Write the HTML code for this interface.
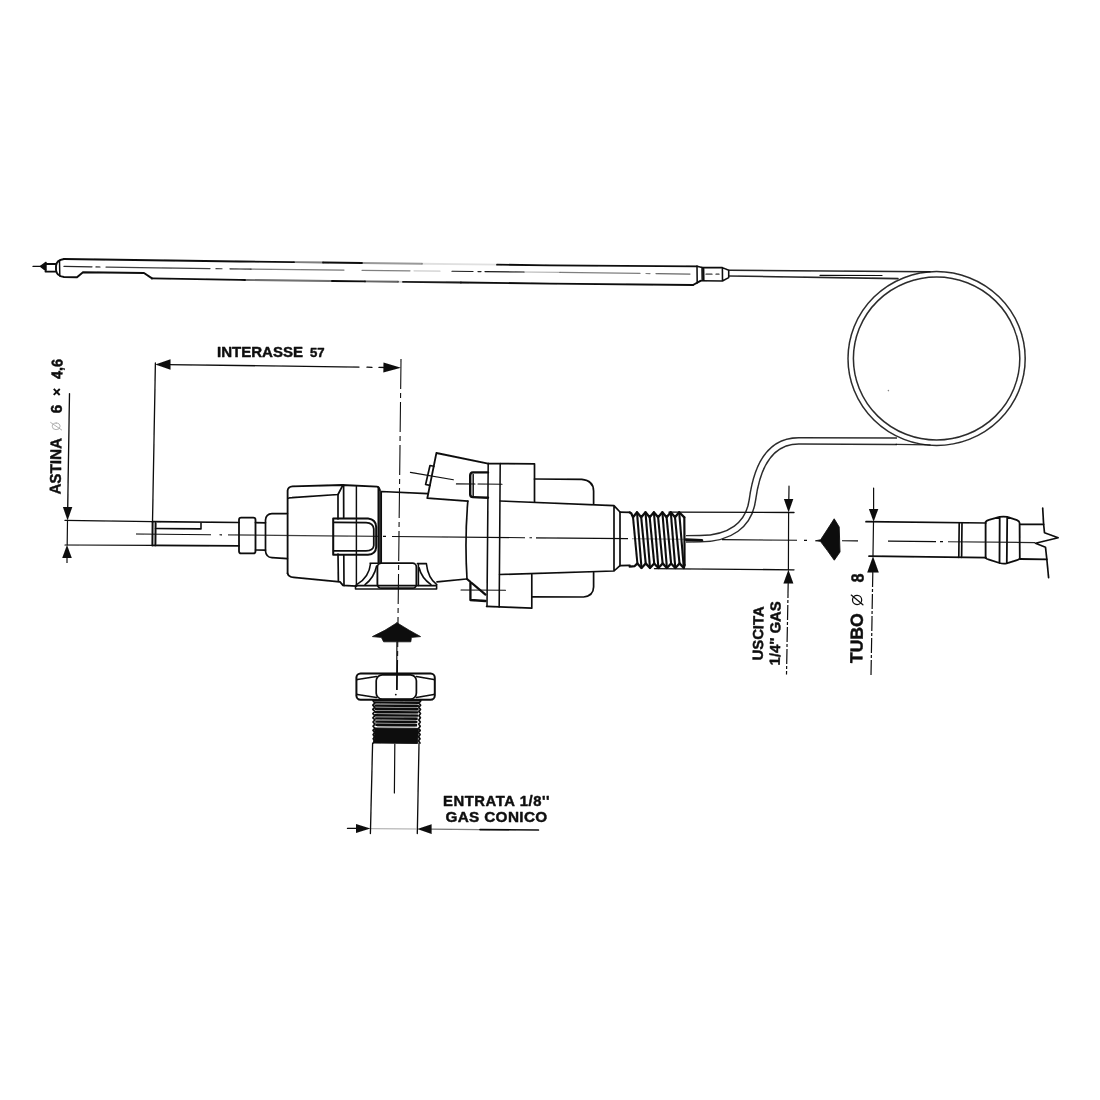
<!DOCTYPE html>
<html><head><meta charset="utf-8"><title>diagram</title>
<style>
html,body{margin:0;padding:0;background:#fff;}
body{width:1100px;height:1100px;overflow:hidden;font-family:"Liberation Sans",sans-serif;}
svg{display:block;}
text{font-family:"Liberation Sans",sans-serif;font-weight:bold;fill:#0c0c0c;stroke:#0c0c0c;stroke-width:0.45;stroke-linejoin:round;}
</style></head><body>
<svg width="1100" height="1100" viewBox="0 0 1100 1100">
<defs><filter id="soft" x="-2%" y="-2%" width="104%" height="104%"><feGaussianBlur stdDeviation="0.45"/></filter></defs>
<rect width="1100" height="1100" fill="#fff"/>
<g stroke="#0c0c0c" fill="none" stroke-linecap="round" stroke-linejoin="round" filter="url(#soft)">
<g id="probe">
<line x1="33" y1="266.4" x2="41" y2="266.4" stroke-width="1.20" />
<path d="M40.6,266.4 L46,262.4 L46,270.6 Z" stroke-width="1.44" fill="#0c0c0c" />
<path d="M45.5,264 L55.5,264 M45.5,271.6 L55.5,271.6" stroke-width="1.92" fill="none" />
<path d="M64,259 Q56.4,260 56,266 L56,270 Q56.4,276 64,277 L77,277.2 L83,272.2 L144,273 L152,278.4" stroke-width="1.92" fill="none" />
<path d="M693,285 L700.5,280.8" stroke-width="1.92" fill="none" />
<path d="M64.0,259.00 L240.0,261.50 L294.0,262.16" stroke-width="1.80" fill="none" />
<path d="M294.0,262.16 L323.0,262.52" stroke-width="1.80" fill="none" stroke-opacity="0.55"/>
<path d="M323.0,262.52 L362.0,263.00" stroke-width="1.80" fill="none" />
<path d="M362.0,263.00 L422.0,263.73" stroke-width="1.80" fill="none" stroke-opacity="0.4"/>
<path d="M422.0,263.73 L497.0,264.65" stroke-width="1.80" fill="none" stroke-opacity="0.12"/>
<path d="M497.0,264.65 L550.0,265.30 L697.0,266.30" stroke-width="1.80" fill="none" />
<path d="M152.0,278.40 L240.0,279.90 L245.0,279.96" stroke-width="1.92" fill="none" />
<path d="M245.0,279.96 L332.0,281.00" stroke-width="1.92" fill="none" stroke-opacity="0.6"/>
<path d="M332.0,281.00 L365.0,281.39" stroke-width="1.92" fill="none" />
<path d="M365.0,281.39 L398.0,281.79" stroke-width="1.92" fill="none" stroke-opacity="0.65"/>
<path d="M398.0,281.79 L403.0,281.85" stroke-width="1.92" fill="none" stroke-opacity="0.2"/>
<path d="M403.0,281.85 L461.0,282.54" stroke-width="1.92" fill="none" stroke-opacity="0.95"/>
<path d="M461.0,282.54 L550.0,283.60 L693.0,285.00" stroke-width="1.92" fill="none" />
<line x1="59.5" y1="260.5" x2="59.8" y2="276" stroke-width="1.44" />
<line x1="697" y1="266.2" x2="697.2" y2="283" stroke-width="1.56" />
<path d="M697,266.2 L702,267.4 L722.4,267.6 L728.7,270.2 M700.5,280.8 L722.4,281 L728.7,277.6 M702,267.4 L702.2,280.9 M703.6,267.5 L703.8,280.9 M722.4,267.6 L722.5,281 M728.7,270.2 L728.7,277.6" stroke-width="1.56" fill="none" />
<path d="M64.0,266.46 L92.0,266.86" stroke-width="1.20" fill="none" stroke-opacity="0.9"/>
<path d="M96.0,266.92 L100.0,266.98" stroke-width="1.20" fill="none" stroke-opacity="0.9"/>
<path d="M106.0,267.06 L210.0,268.57" stroke-width="1.20" fill="none" stroke-opacity="0.8"/>
<path d="M216.0,268.65 L222.0,268.74" stroke-width="1.20" fill="none" stroke-opacity="0.8"/>
<path d="M230.0,268.86 L240.0,269.00 L251.0,269.12" stroke-width="1.20" fill="none" stroke-opacity="0.9"/>
<path d="M251.0,269.12 L344.0,270.11" stroke-width="1.20" fill="none" stroke-opacity="0.55"/>
<path d="M362.0,270.30 L410.0,270.81" stroke-width="1.20" fill="none" stroke-opacity="0.5"/>
<path d="M414.0,270.85 L440.0,271.12" stroke-width="1.20" fill="none" stroke-opacity="0.2"/>
<path d="M452.0,271.25 L473.0,271.48" stroke-width="1.20" fill="none" stroke-opacity="0.95"/>
<path d="M478.0,271.53 L481.0,271.56" stroke-width="1.20" fill="none" stroke-opacity="0.9"/>
<path d="M485.0,271.60 L524.0,272.02" stroke-width="1.20" fill="none" stroke-opacity="0.95"/>
<path d="M524.0,272.02 L560.0,272.40" stroke-width="1.20" fill="none" stroke-opacity="0.3"/>
<path d="M560.0,272.40 L640.0,273.43" stroke-width="1.20" fill="none" stroke-opacity="0.5"/>
<path d="M646.0,273.51 L650.0,273.56" stroke-width="1.20" fill="none" stroke-opacity="0.5"/>
<path d="M656.0,273.63 L690.0,274.07" stroke-width="1.20" fill="none" stroke-opacity="0.6"/>
<path d="M706.0,274.20 L712.0,274.20" stroke-width="1.20" fill="none" stroke-opacity="0.8"/>
<path d="M716.0,274.20 L719.0,274.20" stroke-width="1.20" fill="none" stroke-opacity="0.8"/>
</g>
<g id="cap">
<path d="M728.7,270.2 L930,271.7" stroke-width="1.44" fill="none" stroke-opacity="0.9"/>
<path d="M728.7,276 L898,278.6" stroke-width="1.56" fill="none" stroke-opacity="0.9"/>
<path d="M820,275.3 L882,275.5" stroke-width="1.20" fill="none" />
<path d="M897,441.2 L799,440.9 C775,440.8 758,458 752.4,500 C749,525 730,538.5 700,538.7 L686,538.8" fill="none" stroke="#0c0c0c" stroke-width="7.85" stroke-linecap="butt" stroke-opacity="0.88"/>
<path d="M897,441.2 L799,440.9 C775,440.8 758,458 752.4,500 C749,525 730,538.5 700,538.7 L686,538.8" fill="none" stroke="#fff" stroke-width="4.95" stroke-linecap="butt"/>
<path d="M896,444.4 L930,444.9" stroke-width="1.44" fill="none" stroke-opacity="0.88"/>
<ellipse cx="936.6" cy="358.55" rx="88.6" ry="86.95" fill="none" stroke-width="1.5" stroke-opacity="0.88"/>
<ellipse cx="936.6" cy="358.5" rx="83.2" ry="81.5" fill="none" stroke-width="1.5" stroke-opacity="0.88"/>
<path d="M686,539.6 L702,540.4" stroke-width="2.64" fill="none" />
</g>
<g id="rod">
<line x1="65" y1="520.4" x2="152.5" y2="521.7" stroke-width="1.20" />
<line x1="152.5" y1="521.7" x2="239" y2="522.5" stroke-width="1.68" />
<line x1="65" y1="545" x2="152.5" y2="545.4" stroke-width="1.20" />
<line x1="152.5" y1="545.4" x2="239" y2="545.8" stroke-width="1.68" />
<path d="M152.6,522 L152.4,545.4 M155.6,523 L155.4,545.4" stroke-width="1.92" fill="none" />
<path d="M155.5,528.5 L201,528.9 L201,523" stroke-width="1.56" fill="none" />
<rect x="239" y="517.6" width="16.5" height="35.8" rx="2.2" stroke-width="1.8"/>
<path d="M255.5,522.7 L265.5,522.8 M255.5,550 L265.5,550.2" stroke-width="1.68" fill="none" />
<path d="M265.5,551 L265.5,520 Q266,513.8 272,513.6 L287.4,513.6 M265.5,551 Q266,557.4 272,557.6 L287.4,558.7" stroke-width="1.68" fill="none" />
</g>
<g id="capbody">
<path d="M287.6,573.4 L287.6,490.6 Q288,486.8 292.5,486.4 L342,485 L377,486.6 Q379.4,487 379.6,490" stroke-width="1.80" fill="none" />
<path d="M287.6,573.4 Q288.4,577 293.6,577.4 L340,581.8 L343,585.4 L356.4,586.2" stroke-width="1.80" fill="none" />
<path d="M288.7,498.2 Q289.5,497.6 292,497.6 L338,494.5 L342.7,485.5" stroke-width="1.68" fill="none" />
<path d="M338,494.5 L338,519 M338,554 L338.4,581.5" stroke-width="1.68" fill="none" />
<path d="M343.6,485.2 L343.7,518 M343.8,555 L344,585.6" stroke-width="1.68" fill="none" />
<path d="M356.4,485.6 L356.4,586.2" stroke-width="1.44" fill="none" />
<path d="M378.3,487 L378.3,563 M380,490 L380,563" stroke-width="1.56" fill="none" />
<path d="M333.2,518.4 L368,518.6 Q375.8,519.4 376.2,527 L376.2,547 Q375.8,554.2 368,554.8 L333.2,554.8 Z" stroke-width="2.04" fill="none" />
<path d="M334.2,522.4 L366,522.6 Q373.4,523 373.8,529 L373.8,545.5 Q373.4,550.6 366,550.8 L334.2,550.8" stroke-width="1.80" fill="none" />
</g>
<g id="midbody">
<path d="M381.2,562.8 L381.2,491.5 L427.6,493.6" stroke-width="1.68" fill="none" />
<path d="M355.5,585.6 L436.6,585.6 L436.6,589 L355.5,589 Z" stroke-width="1.56" fill="none" />
<path d="M370,563.2 L378,563.2 M370.6,563.4 Q369,578 356.6,584.6 M376.6,566 Q374,578 365,584.6" stroke-width="1.56" fill="none" />
<rect x="377.4" y="563.2" width="39" height="25" rx="4" stroke-width="1.8"/>
<path d="M417.4,563.6 L426.4,563.6 M426.4,563.8 Q428,578 436.8,584.6 M418.4,563.6 L418.4,585.6 M419,567.5 Q421.5,578 431,584.6" stroke-width="1.56" fill="none" />
<path d="M437,581.9 L466.4,579" stroke-width="1.68" fill="none" />
<path d="M427.3,498.2 L436.4,453 L488.2,463.6 M427.3,498.2 L467.8,501.2" stroke-width="1.80" fill="none" />
<path d="M433.9,466.3 L430,465.5 L425.6,484.5 L430,485.4" stroke-width="1.68" fill="none" />
<line x1="410.4" y1="472.4" x2="453.4" y2="479.8" stroke-width="1.08" />
<path d="M488,472.4 L473,472.4 Q470.2,472.6 470.2,475.4 L470.2,494.6 Q470.2,497 473,497.1 L488,497.8" stroke-width="2.40" fill="none" />
<path d="M473.2,474.5 L473.2,495.5" stroke-width="1.44" fill="none" />
<path d="M456.4,483.9 L475,484 M478,484 L502,484.3" stroke-width="1.08" fill="none" />
<path d="M467.8,501.2 Q464.6,540 467,579" stroke-width="1.68" fill="none" />
<path d="M488.2,463.6 L487,606.4 M500.2,463.6 L499.2,607" stroke-width="1.56" fill="none" />
<path d="M488.2,463.6 L534.5,463.8 L534.5,501.9" stroke-width="1.68" fill="none" />
<path d="M486.6,606.4 L531.8,608.2 L531.8,574.4" stroke-width="1.68" fill="none" />
<path d="M467,579 L485.5,594.6 M470.4,582 L470.4,600 L485.6,601" stroke-width="2.28" fill="none" />
<line x1="461" y1="590" x2="505.5" y2="590.2" stroke-width="1.08" />
<path d="M534.5,479 L581.8,479.4 Q593.4,480.4 593.6,491 L593.6,503.8" stroke-width="1.68" fill="none" />
<path d="M531.8,596.8 L583.6,597 Q593.4,596 593.6,587 L593.6,572.6" stroke-width="1.68" fill="none" />
<path d="M500.2,501 L614,505.6 L620,512 L620,565.6 L614,571 L499.6,574.5 M614,505.6 L614,571" stroke-width="1.68" fill="none" />
<path d="M620,512.2 L630,512.4 M620,565.6 L630,565.4" stroke-width="1.68" fill="none" />
</g>
<g id="thread">
<path d="M637.0,512.3 L641.5,568" stroke-width="2.10" fill="none" />
<path d="M641.2,517.3 L645.7,563.4" stroke-width="2.10" fill="none" />
<path d="M645.5,512.3 L650.0,568" stroke-width="2.10" fill="none" />
<path d="M649.7,517.3 L654.2,563.4" stroke-width="2.10" fill="none" />
<path d="M653.9,512.3 L658.4,568" stroke-width="2.10" fill="none" />
<path d="M658.1,517.3 L662.6,563.4" stroke-width="2.10" fill="none" />
<path d="M662.4,512.3 L666.9,568" stroke-width="2.10" fill="none" />
<path d="M666.6,517.3 L671.1,563.4" stroke-width="2.10" fill="none" />
<path d="M670.8,512.3 L675.3,568" stroke-width="2.10" fill="none" />
<path d="M675.0,517.3 L679.5,563.4" stroke-width="2.10" fill="none" />
<path d="M679.2,512.3 L683.8,568" stroke-width="2.10" fill="none" />
<path d="M633,517.2 L637.4,563.4" stroke-width="2.04" fill="none" />
<path d="M629.7,512.4 L631.2,513.2 L633,517.2 L637.0,512.3 L641.2,517.3 L645.5,512.3 L649.7,517.3 L653.9,512.3 L658.1,517.3 L662.4,512.3 L666.6,517.3 L670.8,512.3 L675.0,517.3 L679.2,512.3 L684.3,517.4" stroke-width="2.28" fill="none" />
<path d="M629.7,566.6 L634.5,566.2 L637.4,563.4 L641.5,568 L645.7,563.4 L650.0,568 L654.2,563.4 L658.4,568 L662.6,563.4 L666.9,568 L671.1,563.4 L675.3,568 L679.5,563.4 L683.8,568 L684.6,565" stroke-width="2.28" fill="none" />
<path d="M684.3,517.4 L684.6,565" stroke-width="2.16" fill="none" />
</g>
<g id="centre">
<path d="M136,534.01 L211,534.72" stroke-width="1.14" fill="none" stroke-linecap="butt" stroke-opacity="1"/>
<path d="M219.5,534.80 L222,534.83" stroke-width="1.14" fill="none" stroke-linecap="butt" stroke-opacity="1"/>
<path d="M228,534.89 L378,536.31" stroke-width="1.14" fill="none" stroke-linecap="butt" stroke-opacity="0.8"/>
<path d="M383,536.36 L386,536.39" stroke-width="1.14" fill="none" stroke-linecap="butt" stroke-opacity="1"/>
<path d="M392,536.45 L525,537.71" stroke-width="1.14" fill="none" stroke-linecap="butt" stroke-opacity="1"/>
<path d="M529.5,537.75 L532,537.78" stroke-width="1.14" fill="none" stroke-linecap="butt" stroke-opacity="1"/>
<path d="M536,537.82 L628,538.69" stroke-width="1.14" fill="none" stroke-linecap="butt" stroke-opacity="1"/>
<path d="M632,538.73 L684,539.22" stroke-width="1.14" fill="none" stroke-linecap="butt" stroke-opacity="0.45"/>
<path d="M722,539.59 L797,540.30" stroke-width="1.14" fill="none" stroke-linecap="butt" stroke-opacity="1"/>
<path d="M804,540.37 L807,540.40" stroke-width="1.14" fill="none" stroke-linecap="butt" stroke-opacity="1"/>
<path d="M842,540.73 L858,540.88" stroke-width="1.14" fill="none" stroke-linecap="butt" stroke-opacity="1"/>
<path d="M888,541.17 L936,541.62" stroke-width="1.14" fill="none" stroke-linecap="butt" stroke-opacity="1"/>
<path d="M940,541.66 L943,541.69" stroke-width="1.14" fill="none" stroke-linecap="butt" stroke-opacity="1"/>
<path d="M948,541.74 L1035,542.57" stroke-width="1.14" fill="none" stroke-linecap="butt" stroke-opacity="0.9"/>
<path d="M401,359 L397.2,690" stroke-width="1.08" fill="none" stroke-dasharray="30 4 5 4" stroke-linecap="butt"/>
</g>
<g id="interasse">
<line x1="155.4" y1="363" x2="152.5" y2="522" stroke-width="1.32" />
<path d="M168,364.6 L359,367.1 M367,367.2 L372,367.3 M379,367.4 L386,367.5" stroke-width="1.32" fill="none" />
<polygon points="155.3,364.4 170.5,359.2 170.5,369.8" fill="#0c0c0c" stroke="none" />
<polygon points="401,367.7 383.5,362.6 383.3,372.4" fill="#0c0c0c" stroke="none" />
<text x="217" y="357.4" font-size="15" textLength="86" lengthAdjust="spacingAndGlyphs">INTERASSE</text>
<text x="310" y="357.2" font-size="13.2" textLength="14.6" lengthAdjust="spacing">57</text>
</g>
<g id="astina">
<line x1="69.5" y1="393.6" x2="67.7" y2="508" stroke-width="1.32" />
<polygon points="67.6,520.6 62.9,507 72.3,507" fill="#0c0c0c" stroke="none" />
<line x1="67.5" y1="520.6" x2="67.2" y2="545" stroke-width="1.20" />
<polygon points="67,545 62.2,558 71.8,558" fill="#0c0c0c" stroke="none" />
<line x1="67" y1="558" x2="67" y2="562.5" stroke-width="1.20" />
<g transform="translate(60.6,494.6) rotate(-89.2)">
<text x="0" y="0" font-size="15.6" textLength="56.5" lengthAdjust="spacingAndGlyphs">ASTINA</text>
<g stroke="#a8a8a8" stroke-width="0.9" fill="none"><ellipse cx="68.2" cy="-5.4" rx="3.3" ry="3.9"/><line x1="64.6" y1="0.2" x2="72" y2="-11"/></g>
<text x="81" y="0" font-size="15.6">6</text>
<path d="M99.6,-8.3 L105.6,-2.3 M99.6,-2.3 L105.6,-8.3" stroke-width="1.9" stroke-linecap="butt"/>
<text x="115.6" y="0" font-size="15.6" textLength="20" lengthAdjust="spacingAndGlyphs">4,6</text>
</g></g>
<g id="uscita">
<line x1="669" y1="512.2" x2="794" y2="512.5" stroke-width="1.32" />
<line x1="654.5" y1="568.7" x2="794" y2="569.8" stroke-width="1.32" />
<line x1="789" y1="486" x2="788.8" y2="500" stroke-width="1.20" />
<polygon points="788.6,512.6 783.9,499 793.3,499" fill="#0c0c0c" stroke="none" />
<line x1="788.6" y1="512.6" x2="788.4" y2="569.8" stroke-width="1.20" />
<polygon points="788.4,569.8 783.4,583.4 793.4,583.4" fill="#0c0c0c" stroke="none" />
<line x1="788.2" y1="583" x2="786.5" y2="674.5" stroke-width="1.20" stroke-dasharray="15 2 3 2" stroke-linecap="butt"/>
<g transform="translate(762.8,660.4) rotate(-89.2)">
<text x="0" y="0" font-size="14.6" textLength="54" lengthAdjust="spacingAndGlyphs">USCITA</text>
</g>
<g transform="translate(779.8,665.4) rotate(-89.2)">
<text x="0" y="0" font-size="14.6" textLength="64" lengthAdjust="spacingAndGlyphs">1/4&#39;&#39; GAS</text>
</g></g>
<g id="bigarrowL">
<path d="M815.8,540.7 L820.6,539.8 L827,530 L834.2,518.8 L839.2,527 L840,552 L834.3,560.2 L827.4,550.6 L820.6,541.6 Z" fill="#0c0c0c" stroke="#0c0c0c" stroke-width="0.9"/>
</g>
<g id="tubo">
<line x1="873.6" y1="488" x2="873.6" y2="509" stroke-width="1.20" />
<polygon points="873.6,521.8 868.9,509 878.3,509" fill="#0c0c0c" stroke="none" />
<line x1="873.5" y1="521.8" x2="873" y2="556" stroke-width="1.20" />
<polygon points="873,556.2 867.2,572.6 878.8,572.6" fill="#0c0c0c" stroke="none" />
<line x1="872.8" y1="572" x2="871" y2="676.7" stroke-width="1.20" stroke-dasharray="15 2 3 2" stroke-linecap="butt"/>
<line x1="866" y1="521.7" x2="986" y2="523" stroke-width="1.68" />
<line x1="869" y1="556.2" x2="986" y2="557.7" stroke-width="1.68" />
<path d="M959.2,523 L958.8,557.3 M962,523 L961.6,557.3" stroke-width="1.68" fill="none" />
<path d="M985.6,522.6 L985.6,558 M985.6,522 Q986.4,520.6 989,519.8 L999.6,516.9 Q1003.4,516.4 1007.2,516.9 L1017,520.2 Q1019.4,521.2 1019.6,523 L1019.8,558 Q1019.4,559.6 1017,560.2 L1006.6,563.4 Q1003,563.9 999.5,563 L989,559.6 Q986.4,559 985.6,558 M999.7,517 L999.5,563 M1007.2,517 L1006.8,563.4" stroke-width="1.80" fill="none" />
<path d="M1020,524.4 L1043.6,524.4 M1020,559 L1046.8,559.4" stroke-width="1.80" fill="none" />
<path d="M1042.7,508.2 L1043.6,524 L1044.5,532.7 L1058.2,537.7 L1035.5,543.2 L1045.5,547.3 L1046.8,559 L1048.6,577.7" stroke-width="1.68" fill="none" />
<g transform="translate(862.3,663.2) rotate(-89.2)">
<text x="0" y="0" font-size="17.5" textLength="49.8" lengthAdjust="spacingAndGlyphs">TUBO</text>
<g stroke-width="1.25" fill="none"><circle cx="63.2" cy="-6.1" r="4.6"/><line x1="58.4" y1="-0.2" x2="68" y2="-12"/></g>
<text x="80.6" y="0" font-size="17.5" textLength="9" lengthAdjust="spacingAndGlyphs">8</text>
</g></g>
<g id="plug">
<path d="M397,622.8 Q410,631 420.6,636.6 L411.4,637.4 L410.8,641.8 L383.6,641.8 L381.4,637.4 L372.4,636.6 Q385,631 397,622.8 Z" fill="#0c0c0c" stroke="#0c0c0c" stroke-width="0.8"/>
<line x1="396.9" y1="642" x2="396.6" y2="689.5" stroke-width="1.20" />
<circle cx="395.8" cy="694.6" r="0.9" fill="#0c0c0c" stroke="none"/>
<circle cx="888.4" cy="390.6" r="0.8" fill="#888" stroke="none"/>
<rect x="356.4" y="673.6" width="78.4" height="26.2" rx="4.2" stroke-width="2.0"/>
<rect x="376.2" y="674.8" width="40.2" height="24.2" rx="6" stroke-width="1.7"/>
<path d="M357.4,679.6 L376.4,676.6 M357.4,694.4 L376.4,697.4 M416.4,676.6 L433.8,679.6 M416.4,697.4 L433.8,694.4" stroke-width="1.56" fill="none" />
<line x1="374.4" y1="702.4" x2="419.2" y2="702.8" stroke-width="2.40" stroke-linecap="butt"/>
<line x1="376.4" y1="704.0" x2="417.2" y2="704.4" stroke-width="0.60" stroke-opacity="0.55"/>
<line x1="374.54999999999995" y1="705.6" x2="418.9" y2="706.0" stroke-width="2.40" stroke-linecap="butt"/>
<line x1="376.54999999999995" y1="707.2" x2="416.9" y2="707.6" stroke-width="0.60" stroke-opacity="0.55"/>
<line x1="374.7" y1="708.8" x2="418.59999999999997" y2="709.1999999999999" stroke-width="2.40" stroke-linecap="butt"/>
<line x1="376.7" y1="710.4" x2="416.59999999999997" y2="710.8" stroke-width="0.60" stroke-opacity="0.55"/>
<line x1="374.84999999999997" y1="712" x2="418.3" y2="712.4" stroke-width="2.40" stroke-linecap="butt"/>
<line x1="376.84999999999997" y1="713.6" x2="416.3" y2="714.0" stroke-width="0.60" stroke-opacity="0.55"/>
<line x1="375.0" y1="715.2" x2="418.0" y2="715.6" stroke-width="2.40" stroke-linecap="butt"/>
<line x1="377.0" y1="716.8000000000001" x2="416.0" y2="717.2" stroke-width="0.60" stroke-opacity="0.55"/>
<line x1="375.15" y1="718.4" x2="417.7" y2="718.8" stroke-width="2.40" stroke-linecap="butt"/>
<line x1="377.15" y1="720.0" x2="415.7" y2="720.4" stroke-width="0.60" stroke-opacity="0.55"/>
<line x1="375.29999999999995" y1="721.6" x2="417.4" y2="722.0" stroke-width="2.40" stroke-linecap="butt"/>
<line x1="377.29999999999995" y1="723.2" x2="415.4" y2="723.6" stroke-width="0.60" stroke-opacity="0.55"/>
<line x1="375.45" y1="724.8" x2="417.09999999999997" y2="725.1999999999999" stroke-width="2.40" stroke-linecap="butt"/>
<line x1="377.45" y1="726.4" x2="415.09999999999997" y2="726.8" stroke-width="0.60" stroke-opacity="0.55"/>
<path d="M374.6,728 L418.4,728.4 L417.6,743.4 L374,743 Z" fill="#0c0c0c" stroke="#0c0c0c" stroke-width="1"/>
<path d="M373.2,701 L374.8,703.1 L372.8,705.2 L374.8,707.3 L372.8,709.4 L374.8,711.5 L372.9,713.6 L374.9,715.7 L372.9,717.8 L374.9,719.9 L373.0,722.0 L374.9,724.1 L373.0,726.2 L374.9,728.3 L373.0,730.4 L374.9,732.5 L373.1,734.6 L375.0,736.7 L373.1,738.8 L375.0,740.9 L373.2,743.0 " stroke-width="1.68" fill="none" />
<path d="M420.6,701 L419.0,703.1 L420.6,705.2 L418.9,707.3 L420.5,709.4 L418.9,711.5 L420.5,713.6 L418.9,715.7 L420.4,717.8 L418.8,719.9 L420.3,722.0 L418.8,724.1 L420.2,726.2 L418.7,728.3 L420.2,730.4 L418.6,732.5 L420.1,734.6 L418.6,736.7 L420.0,738.8 L418.6,740.9 L420.0,743.0 " stroke-width="1.68" fill="none" />
<path d="M373,700 L420.6,700.4" stroke-width="1.92" fill="none" />
<line x1="372.6" y1="743.5" x2="370.4" y2="833.5" stroke-width="1.32" />
<line x1="419" y1="743.5" x2="417.3" y2="833.5" stroke-width="1.32" />
<line x1="394.8" y1="744" x2="394.4" y2="793" stroke-width="1.20" />
<line x1="347.5" y1="828.4" x2="357" y2="828.4" stroke-width="1.32" />
<polygon points="370.4,828.5 356,824 356,833" fill="#0c0c0c" stroke="none" />
<line x1="371" y1="828.7" x2="416" y2="829" stroke-width="0.72" stroke-opacity="0.5"/>
<polygon points="417.3,829 431.6,824.2 431.6,834" fill="#0c0c0c" stroke="none" />
<line x1="431" y1="829.2" x2="480" y2="829.6" stroke-width="1.20" stroke-opacity="0.55"/>
<line x1="480" y1="829.6" x2="538.4" y2="830" stroke-width="1.68" />
<text x="443" y="805.5" font-size="14.8" textLength="106.6" lengthAdjust="spacing">ENTRATA 1/8&#39;&#39;</text>
<text x="445.4" y="821.5" font-size="15.3" textLength="101.8" lengthAdjust="spacing">GAS CONICO</text>
</g>
</g>
</svg>
</body></html>
